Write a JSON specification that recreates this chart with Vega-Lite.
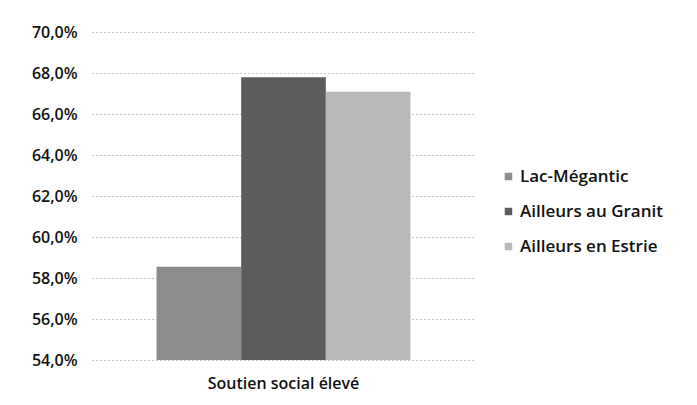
{
  "$schema": "https://vega.github.io/schema/vega-lite/v6.json",
  "width": 383,
  "height": 328,
  "autosize": "none",
  "padding": {"left": 92, "top": 32, "right": 222, "bottom": 45},
  "background": "white",
  "data": {
    "values": [
      {"categorie": "Soutien social élevé", "serie": "Lac-Mégantic", "valeur": 0.5855},
      {"categorie": "Soutien social élevé", "serie": "Ailleurs au Granit", "valeur": 0.6779},
      {"categorie": "Soutien social élevé", "serie": "Ailleurs en Estrie", "valeur": 0.6709}
    ]
  },
  "mark": {"type": "bar", "clip": true},
  "encoding": {
    "x": {
      "field": "categorie",
      "type": "nominal",
      "scale": {"paddingInner": 0, "paddingOuter": 0.254},
      "axis": {"title": null, "domain": false, "ticks": false, "labelAngle": 0, "labelPadding": 15, "labelFontSize": 16, "labelFontWeight": 600, "labelFont": "Open Sans", "labelColor": "#111"}
    },
    "xOffset": {
      "field": "serie",
      "type": "nominal",
      "sort": ["Lac-Mégantic", "Ailleurs au Granit", "Ailleurs en Estrie"],
      "scale": {"paddingInner": 0, "paddingOuter": 0}
    },
    "y": {
      "field": "valeur",
      "type": "quantitative",
      "scale": {"domain": [0.54, 0.70], "nice": false, "zero": false},
      "axis": {
        "title": null,
        "domain": false,
        "ticks": false,
        "values": [0.54, 0.56, 0.58, 0.60, 0.62, 0.64, 0.66, 0.68, 0.70],
        "labelExpr": "replace(format(datum.value, '.1%'), '.', ',')",
        "labelPadding": 15,
        "labelFontSize": 16,
        "labelFontWeight": 600,
        "labelFont": "Open Sans",
        "labelColor": "#111",
        "gridColor": "#8a8a8a",
        "gridDash": [1, 3],
        "gridWidth": 1
      }
    },
    "color": {
      "field": "serie",
      "type": "nominal",
      "sort": ["Lac-Mégantic", "Ailleurs au Granit", "Ailleurs en Estrie"],
      "scale": {"range": ["#8c8c8c", "#5c5c5c", "#b9b9b9"]},
      "legend": {
        "title": null,
        "orient": "none",
        "legendX": 408,
        "legendY": 136,
        "symbolType": "square",
        "symbolSize": 56,
        "symbolStrokeWidth": 0,
        "labelFontSize": 17,
        "labelFontWeight": 600,
        "labelFont": "Open Sans",
        "labelColor": "#111",
        "labelOffset": 3,
        "rowPadding": 17
      }
    }
  },
  "config": {"view": {"stroke": null}}
}
